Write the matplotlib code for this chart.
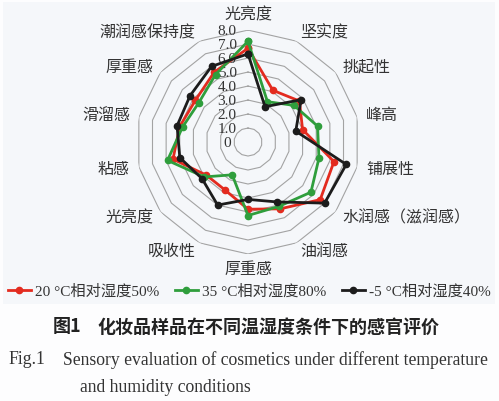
import numpy as np
import matplotlib
matplotlib.use("Agg")
import matplotlib.pyplot as plt
from matplotlib.patches import Rectangle
from matplotlib.transforms import offset_copy

# ---- data ----
categories = ["光亮度", "坚实度", "挑起性", "峰高", "铺展性", "水润感（滋润感）", "油润感",
              "厚重感", "吸收性", "光亮度", "粘感", "滑溜感", "厚重感", "潮润感保持度"]
red_20c = [6.7, 4.1, 4.7, 4.0, 6.3, 6.6, 5.3, 4.8, 3.8, 3.8, 5.5, 5.0, 4.8, 5.55]
green_35c = [7.2, 3.2, 4.2, 5.1, 5.2, 5.75, 5.1, 5.25, 2.6, 4.0, 5.9, 4.8, 4.5, 5.35]
black_m5c = [6.3, 2.8, 4.85, 3.5, 7.2, 7.0, 4.75, 4.1, 5.0, 4.2, 5.0, 5.2, 5.3, 6.0]
series_names = ["20 °C相对湿度50%", "35 °C相对湿度80%", "-5 °C相对湿度40%"]
rings = [1, 2, 3, 4, 5, 6, 7, 8]
ring_labels = ["0", "1.0", "2.0", "3.0", "4.0", "5.0", "6.0", "7.0", "8.0"]

series = [red_20c, green_35c, black_m5c]
colors = ["#e32b1f", "#2f9e3c", "#1c1c1c"]

CJK = ["Liberation Serif", "Noto Sans CJK SC"]
plt.rcParams["font.family"] = CJK

fig = plt.figure(figsize=(4.99, 4.02), dpi=100, facecolor="#fdfdfe")
fig.patches.append(Rectangle((3 / 499, 1 - 305 / 402), 492 / 499, 302 / 402,
                             transform=fig.transFigure, facecolor="#f5f7fa",
                             edgecolor="none", zorder=-5))

ax = fig.add_axes([0.2725, 0.3657, 0.449, 0.557], projection="polar")
ax.set_zorder(2)
ax.set_theta_zero_location("N")
ax.set_theta_direction(-1)
ax.set_ylim(0, 8)
ax.grid(False)
ax.spines["polar"].set_visible(False)
ax.set_xticks([])
ax.set_yticks([])
ax.patch.set_alpha(0)

n = len(categories)
theta = np.arange(n) * 2 * np.pi / n
theta_closed = np.append(theta, theta[0])

# polygon rings
for r in rings:
    ax.plot(theta_closed, [r] * (n + 1), color="#a3a3a3", lw=0.8, zorder=1)

# ring value labels next to the top axis
lab_tr = offset_copy(ax.transData, fig=fig, x=-15, y=0, units="points")
for r, lab in enumerate(ring_labels):
    ax.text(0, r, lab, transform=lab_tr, ha="center", va="center",
            fontsize=11, color="#333333", family="Liberation Serif", zorder=2)

# data series
for vals, col, name in zip(series, colors, series_names):
    v = np.append(vals, vals[0])
    ax.plot(theta_closed, v, color=col, lw=2.0, marker="o", markersize=4.5,
            label=name, zorder=3, clip_on=False)

# category labels
for t, lab in zip(theta, categories):
    s = np.sin(t)
    if abs(s) < 1e-6:
        ax.text(t, 9.1, lab, ha="center", va="center", fontsize=11.5, color="#333333")
    else:
        ax.text(t, 8.65, lab, ha="left" if s > 0 else "right", va="center",
                fontsize=11.5, color="#333333")

handles, labels = ax.get_legend_handles_labels()
fig.legend(handles, labels, loc="center", bbox_to_anchor=(0.5, 1 - 292 / 402),
           ncol=3, frameon=False, fontsize=11, handlelength=1.5,
           handletextpad=0.3, columnspacing=1.0, labelcolor="#333333")

fig.text(53 / 499, 1 - 327 / 402, "图1", fontsize=13, fontweight="bold",
         va="center", ha="left", color="#222222", family="Noto Sans CJK SC")
fig.text(98 / 499, 1 - 327 / 402, "化妆品样品在不同温湿度条件下的感官评价", fontsize=13,
         fontweight="bold", va="center", ha="left", color="#222222",
         family="Noto Sans CJK SC")
fig.text(8 / 499, 1 - 360 / 402, "Fig.1", fontsize=12.7, va="center", ha="left",
         color="#333333", family="Liberation Serif")
fig.text(63 / 499, 1 - 360 / 402,
         "Sensory evaluation of cosmetics under different temperature",
         fontsize=12.7, va="center", ha="left", color="#333333", family="Liberation Serif")
fig.text(80 / 499, 1 - 388 / 402, "and humidity conditions", fontsize=12.7,
         va="center", ha="left", color="#333333", family="Liberation Serif")

fig.savefig("out.png", dpi=100, facecolor=fig.get_facecolor())
